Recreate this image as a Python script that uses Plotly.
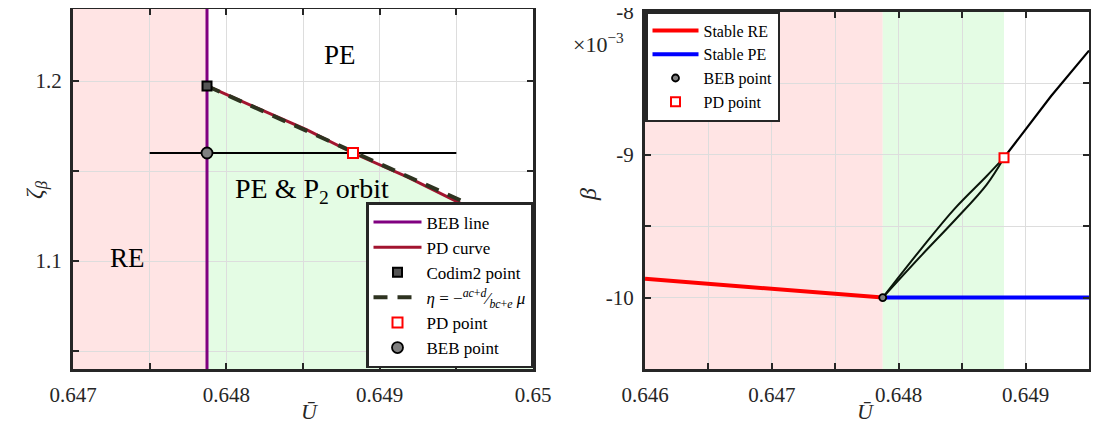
import plotly.graph_objects as go

# ---------------- Left panel data ----------------
U_beb = 0.647874                 # BEB line position
left_xrange = [0.647, 0.650]
left_yrange = [1.04, 1.24]
pd_U = [0.647874, 0.648200, 0.648526, 0.648826, 0.649179, 0.649603, 0.650000]
pd_zeta = [1.19725, 1.18522, 1.17280, 1.16000, 1.14670, 1.12885, 1.11154]
eta_U = [0.647874, 0.649900]
eta_zeta = [1.19725, 1.11940]
codim2_U = [0.647874]
codim2_zeta = [1.19725]
cut_U = [0.6475, 0.6495]
cut_zeta = [1.16, 1.16]
pdpt_left_U = [0.648826]
pdpt_left_zeta = [1.16]
bebpt_left_U = [0.647874]
bebpt_left_zeta = [1.16]
left_xticks = [0.647, 0.6475, 0.648, 0.6485, 0.649, 0.6495, 0.650]
left_xticktext = ["0.647", "", "0.648", "", "0.649", "", "0.65"]
left_yticks = [1.05, 1.10, 1.15, 1.20]
left_yticktext = ["", "1.1", "", "1.2"]

# ---------------- Right panel data ----------------
right_xrange = [0.646, 0.6495]
right_yrange = [-0.0105005, -0.0079995]
re_U = [0.646, 0.647874]
re_beta = [-9.868e-3, -10.0e-3]
pe_U = [0.647874, 0.6495]
pe_beta = [-10.0e-3, -10.0e-3]
branch_U = [0.647874, 0.648185, 0.648438, 0.648692, 0.648830]
upper_beta = [-10.0e-3, -9.650e-3, -9.380e-3, -9.150e-3, -9.020e-3]
lower_beta = [-10.0e-3, -9.699e-3, -9.462e-3, -9.210e-3, -9.020e-3]
cont_U = [0.648830, 0.649000, 0.649200, 0.649500]
cont_beta = [-9.020e-3, -8.820e-3, -8.590e-3, -8.270e-3]
bebpt_right_U = [0.647874]
bebpt_right_beta = [-10.0e-3]
pdpt_right_U = [0.648830]
pdpt_right_beta = [-9.020e-3]
right_xticks = [0.646, 0.6465, 0.647, 0.6475, 0.648, 0.6485, 0.649]
right_xticktext = ["0.646", "", "0.647", "", "0.648", "", "0.649"]
right_yticks = [-0.0105, -0.010, -0.0095, -0.009, -0.0085, -0.008]
right_yticktext = ["", "-10", "", "-9", "", "-8"]

FONT = "Liberation Serif, Times New Roman, serif"
AX = "#262626"
PINK = "rgb(255,228,228)"
GREEN = "rgb(228,252,228)"
OFF = 8  # page body margin of the html page
W, H = 1099 - 2 * OFF, 431 - 2 * OFF   # figure fits the window without scrollbars

fig = go.Figure()

# ---- left traces ----
fig.add_trace(go.Scatter(x=cut_U, y=cut_zeta, mode="lines", line=dict(color="black", width=2.2),
                         showlegend=False, xaxis="x", yaxis="y", hoverinfo="skip"))
fig.add_trace(go.Scatter(x=[U_beb, U_beb], y=left_yrange, mode="lines", name="BEB line",
                         line=dict(color="#800080", width=3), legend="legend", legendrank=1,
                         xaxis="x", yaxis="y"))
fig.add_trace(go.Scatter(x=pd_U, y=pd_zeta, mode="lines", name="PD curve",
                         line=dict(color="#A2142F", width=3), legend="legend", legendrank=2,
                         xaxis="x", yaxis="y"))
fig.add_trace(go.Scatter(x=eta_U, y=eta_zeta, mode="lines",
                         name="<i>η</i> = −<sup><i>ac</i>+<i>d</i></sup>⁄<sub><i>bc</i>+<i>e</i></sub> <i>μ</i>",
                         line=dict(color="#2E3320", width=4, dash="14px,10px"), legend="legend",
                         legendrank=4, xaxis="x", yaxis="y"))
fig.add_trace(go.Scatter(x=codim2_U, y=codim2_zeta, mode="markers", name="Codim2 point",
                         marker=dict(symbol="square", size=9, color="#555555",
                                     line=dict(color="black", width=2)),
                         legend="legend", legendrank=3, xaxis="x", yaxis="y"))
fig.add_trace(go.Scatter(x=pdpt_left_U, y=pdpt_left_zeta, mode="markers", name="PD point",
                         marker=dict(symbol="square", size=10, color="white",
                                     line=dict(color="red", width=2)),
                         legend="legend", legendrank=5, xaxis="x", yaxis="y"))
fig.add_trace(go.Scatter(x=bebpt_left_U, y=bebpt_left_zeta, mode="markers", name="BEB point",
                         marker=dict(symbol="circle", size=11, color="#808080",
                                     line=dict(color="black", width=1.8)),
                         legend="legend", legendrank=6, xaxis="x", yaxis="y"))

# ---- right traces ----
fig.add_trace(go.Scatter(x=re_U, y=re_beta, mode="lines", name="Stable RE",
                         line=dict(color="#FF0000", width=4), legend="legend2", legendrank=1,
                         xaxis="x2", yaxis="y2"))
fig.add_trace(go.Scatter(x=pe_U, y=pe_beta, mode="lines", name="Stable PE",
                         line=dict(color="#0000FF", width=4), legend="legend2", legendrank=2,
                         xaxis="x2", yaxis="y2"))
fig.add_trace(go.Scatter(x=branch_U, y=upper_beta, mode="lines",
                         line=dict(color="#0b160b", width=2, shape="spline", smoothing=1.0),
                         showlegend=False, xaxis="x2", yaxis="y2"))
fig.add_trace(go.Scatter(x=branch_U, y=lower_beta, mode="lines",
                         line=dict(color="#0b160b", width=2, shape="spline", smoothing=1.0),
                         showlegend=False, xaxis="x2", yaxis="y2"))
fig.add_trace(go.Scatter(x=cont_U, y=cont_beta, mode="lines",
                         line=dict(color="black", width=2.2),
                         showlegend=False, xaxis="x2", yaxis="y2"))
fig.add_trace(go.Scatter(x=bebpt_right_U, y=bebpt_right_beta, mode="markers", name="BEB point",
                         marker=dict(symbol="circle", size=7, color="#808080",
                                     line=dict(color="black", width=1.8)),
                         legend="legend2", legendrank=3, xaxis="x2", yaxis="y2"))
fig.add_trace(go.Scatter(x=pdpt_right_U, y=pdpt_right_beta, mode="markers", name="PD point",
                         marker=dict(symbol="square", size=9, color="white",
                                     line=dict(color="red", width=2)),
                         legend="legend2", legendrank=4, xaxis="x2", yaxis="y2"))

# ---- shading shapes ----
green_path = "M {},{} L {},{} ".format(U_beb, left_yrange[0], U_beb, pd_zeta[0])
green_path += " ".join("L {},{}".format(u, z) for u, z in zip(pd_U, pd_zeta))
green_path += " L {},{} Z".format(pd_U[-1], left_yrange[0])
shapes = [
    dict(type="rect", xref="x", yref="y domain", x0=left_xrange[0], x1=U_beb, y0=0, y1=1,
         fillcolor=PINK, line=dict(width=0), layer="below"),
    dict(type="path", xref="x", yref="y", path=green_path, fillcolor=GREEN,
         line=dict(width=0), layer="below"),
    dict(type="rect", xref="x2", yref="y2 domain", x0=right_xrange[0], x1=U_beb, y0=0, y1=1,
         fillcolor=PINK, line=dict(width=0), layer="below"),
    dict(type="rect", xref="x2", yref="y2 domain", x0=U_beb, x1=pdpt_right_U[0], y0=0, y1=1,
         fillcolor=GREEN, line=dict(width=0), layer="below"),
]

axis_common = dict(showline=True, mirror="ticks", linecolor=AX, linewidth=3, ticks="inside",
                   ticklen=6, tickwidth=2, tickcolor=AX, showgrid=True, gridcolor="#dddddd",
                   gridwidth=1, zeroline=False, tickfont=dict(family=FONT, size=21, color=AX),
                   tickmode="array", automargin=False, ticklabeloverflow="allow")

def px_x(p):
    return min(1.0, max(0.0, (p - OFF) / W))

def px_y(p):
    return min(1.0, max(0.0, 1 - (p - OFF) / H))

def label(text, x, y, size, color="black", angle=0):
    return dict(text=text, x=px_x(x), y=px_y(y), xref="paper", yref="paper", showarrow=False,
                xanchor="center", yanchor="middle", textangle=angle,
                font=dict(family=FONT, size=size, color=color))

fig.update_layout(
    width=W, height=H, margin=dict(l=0, r=0, t=0, b=0, pad=0), autosize=False,
    paper_bgcolor="white", plot_bgcolor="white",
    font=dict(family=FONT, color="black"),
    xaxis=dict(domain=[px_x(73), px_x(533)], range=left_xrange, tickvals=left_xticks,
               ticktext=left_xticktext, anchor="y", ticklabelstandoff=5, **axis_common),
    yaxis=dict(domain=[px_y(369), px_y(9)], range=left_yrange, tickvals=left_yticks,
               ticktext=left_yticktext, anchor="x", ticklabelstandoff=4, **axis_common),
    xaxis2=dict(domain=[px_x(645), px_x(1089)], range=right_xrange, tickvals=right_xticks,
                ticktext=right_xticktext, anchor="y2", ticklabelstandoff=5, **axis_common),
    yaxis2=dict(domain=[px_y(369), px_y(12)], range=right_yrange, tickvals=right_yticks,
                ticktext=right_yticktext, anchor="x2", ticklabelstandoff=4, **axis_common),
    shapes=shapes,
    legend=dict(x=px_x(533), y=px_y(368), xanchor="right", yanchor="bottom",
                bgcolor="white", bordercolor=AX, borderwidth=2.5, itemwidth=48,
                font=dict(family=FONT, size=17, color="black"), traceorder="normal",
                tracegroupgap=0),
    legend2=dict(x=px_x(645), y=px_y(11), xanchor="left", yanchor="top",
                 bgcolor="white", bordercolor=AX, borderwidth=2.5, itemwidth=46,
                 font=dict(family=FONT, size=16, color="black"), traceorder="normal"),
    annotations=[
        label("PE", 340, 55, 27),
        label("PE &amp; P<sub>2</sub> orbit", 312, 190, 28),
        label("RE", 127, 258, 27),
        label("<i>ζ</i><sub><i>β</i></sub>", 36, 190, 24, AX, -90),
        label("<i>β</i>", 588, 195, 24, AX, -90),
        label("<i>Ū</i>", 310, 411, 22, AX),
        label("<i>Ū</i>", 866, 411, 22, AX),
        label("×10<sup>−3</sup>", 598, 43, 22, AX),
    ],
)

fig.write_html("out.html")
